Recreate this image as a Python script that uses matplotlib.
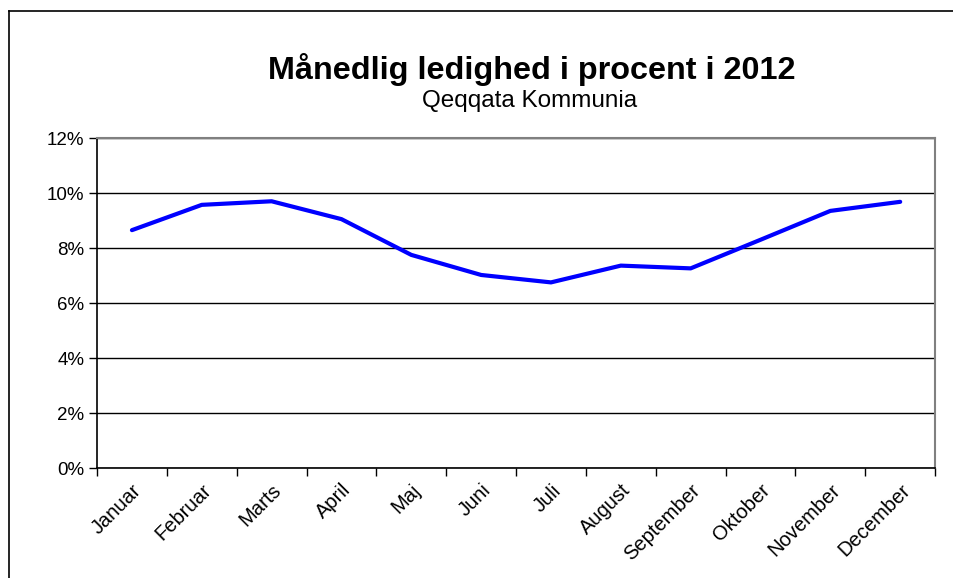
import matplotlib
matplotlib.use('Agg')
from matplotlib import pyplot as plt
from matplotlib.lines import Line2D
from matplotlib.ticker import FixedLocator

plt.rcParams['font.family'] = ['Liberation Sans', 'DejaVu Sans']

months = ['Januar', 'Februar', 'Marts', 'April', 'Maj', 'Juni', 'Juli',
          'August', 'September', 'Oktober', 'November', 'December']
ledighed = [8.65, 9.57, 9.70, 9.05, 7.75, 7.02, 6.75, 7.36, 7.26, 8.30, 9.35, 9.68]
y_ticks = [0, 2, 4, 6, 8, 10, 12]

fig = plt.figure(figsize=(9.54, 5.78), dpi=100)
ax = fig.add_axes([0.1017, 0.1903, 0.8785, 0.5709])

x = list(range(len(months)))
ax.plot(x, ledighed, color='#0000ff', linewidth=3, solid_capstyle='round', zorder=3)

ax.set_xlim(-0.5, len(months) - 0.5)
ax.set_ylim(0, 12)
ax.set_yticks(y_ticks)
ax.set_yticklabels([f'{v}%' for v in y_ticks], fontsize=13.5)
ax.yaxis.grid(True, color='black', linewidth=1)
ax.set_axisbelow(True)

ax.set_xticks(x)
ax.set_xticklabels(months, rotation=45, ha='right', rotation_mode='anchor', fontsize=14.5)
ax.tick_params(axis='x', length=0, pad=9)
ax.xaxis.set_minor_locator(FixedLocator([i - 0.5 for i in range(len(months) + 1)]))
ax.tick_params(axis='x', which='minor', length=6, width=1, color='black', direction='out')
ax.tick_params(axis='y', length=6, width=1, color='black', direction='out', pad=3)

for side in ['left', 'bottom']:
    ax.spines[side].set_color('black')
    ax.spines[side].set_linewidth(1.2)
for side in ['top', 'right']:
    ax.spines[side].set_color('#808080')
    ax.spines[side].set_linewidth(1.5)

fig.text(0.557, 0.879, 'Månedlig ledighed i procent i 2012', ha='center', va='center',
         fontsize=23.3, fontweight='bold')
fig.text(0.555, 0.825, 'Qeqqata Kommunia', ha='center', va='center', fontsize=17.5)

# outer frame (top and left edges visible in reference)
fig.add_artist(Line2D([0.009, 1.0], [0.981, 0.981], color='black', linewidth=1.2,
                      transform=fig.transFigure))
fig.add_artist(Line2D([0.009, 0.009], [0.0, 0.981], color='black', linewidth=1.2,
                      transform=fig.transFigure))

fig.savefig('out.png', dpi=100)
